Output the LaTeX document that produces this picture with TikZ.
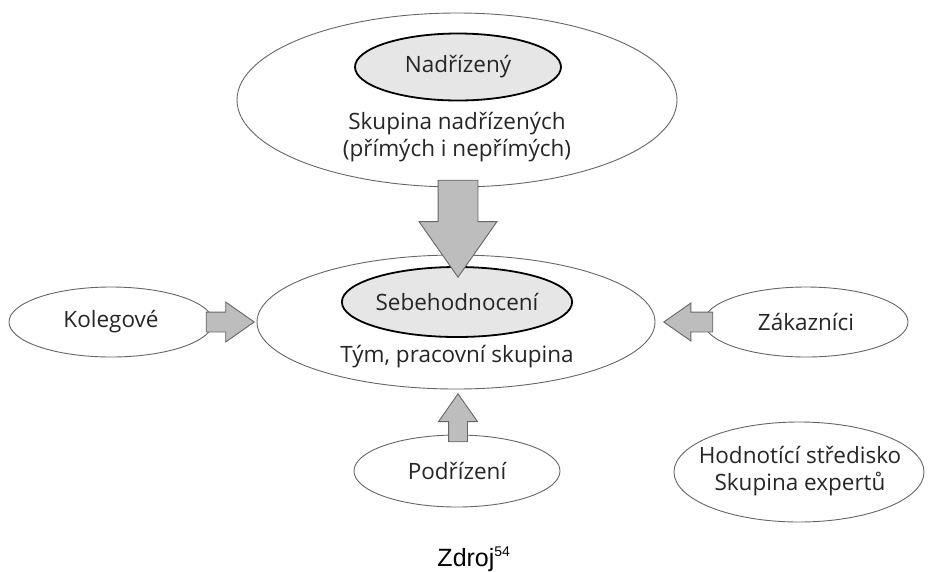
\documentclass[tikz,border=0pt]{standalone}
\usepackage{fontspec}
\setmainfont{Open Sans}
\newfontfamily\zdrojfont{Liberation Sans}
\usepackage{xcolor}
\usepackage{tikz}
\usetikzlibrary{shapes.geometric, shapes.arrows}
\definecolor{arrowgray}{HTML}{BDBDBD}
\definecolor{innergray}{HTML}{E6E6E6}
\tikzstyle{outer} = [ellipse, draw=black!60, line width=0.9pt, fill=white, inner sep=0pt]
\tikzstyle{inner} = [ellipse, draw=black, line width=1.8pt, fill=innergray, inner sep=0pt, minimum width=206pt]
\tikzstyle{label} = [text=black!85, align=center, inner sep=0pt]
\tikzstyle{fatarrow} = [single arrow, draw=black!60, line width=0.9pt, fill=arrowgray, single arrow tip angle=70, inner sep=0pt, anchor=tip]

\begin{document}
\begin{tikzpicture}[x=1pt,y=-1pt]
	\useasboundingbox (0,0) rectangle (928,571);
	\begin{scope}[font=\fontsize{22.5}{26.5}\selectfont]
		
		% Nadrizeni:
		\node [outer, minimum width=440pt, minimum height=174pt] (supgroup) at (457,100) {};
		\node [inner, minimum height=67pt] (sup) at (458,67) {\color{black!85}Nadřízený};
		\node [label] (suptext) at (457,137) {Skupina nadřízených\\(přímých i nepřímých)};
		
		% Tym:
		\node [outer, minimum width=398pt, minimum height=134pt] (team) at (456,322) {};
		\node [inner, minimum height=70pt] (self) at (457,302) {\color{black!85}Sebehodnocení};
		\node [label] (teamtext) at (457,357) {Tým, pracovní skupina};
		
		% Ostatni hodnotitele:
		\node [outer, minimum width=204pt, minimum height=70pt] (coll) at (111,322) {\color{black!85}Kolegové};
		\node [outer, minimum width=204pt, minimum height=70pt] (cust) at (806,322) {\color{black!85}Zákazníci};
		\node [outer, minimum width=206pt, minimum height=72pt] (sub) at (457,471) {\color{black!85}Podřízení};
		\node [outer, minimum width=250pt, minimum height=100pt] (center) at (799,472) {};
		\node [label] (centertext) at (800,471) {Hodnotící středisko\\Skupina expertů};
		
		% Sipky (umistene spickou):
		% sirka tela = 2 x inner sep (xsep u svislych, ysep u vodorovnych)
		\node [fatarrow, minimum height=97pt, inner xsep=19.5pt, single arrow head extend=19pt, shape border rotate=270] (a1) at (458,278) {};
		\node [fatarrow, minimum height=48pt, inner ysep=9.5pt, single arrow head extend=10pt] (a2) at (255,322) {};
		\node [fatarrow, minimum height=49pt, inner ysep=9.5pt, single arrow head extend=9pt, shape border rotate=180] (a3) at (663,322) {};
		\node [fatarrow, minimum height=48pt, inner xsep=9pt, single arrow head extend=10pt, shape border rotate=90] (a4) at (458,393) {};
		
		% Zdroj:
		\node [anchor=base, inner sep=0pt, font=\zdrojfont\fontsize{25}{30}\selectfont] (source) at (474,566) {Zdroj\textsuperscript{\fontsize{14}{16}\selectfont 54}};
		
	\end{scope}
\end{tikzpicture}
\end{document}
